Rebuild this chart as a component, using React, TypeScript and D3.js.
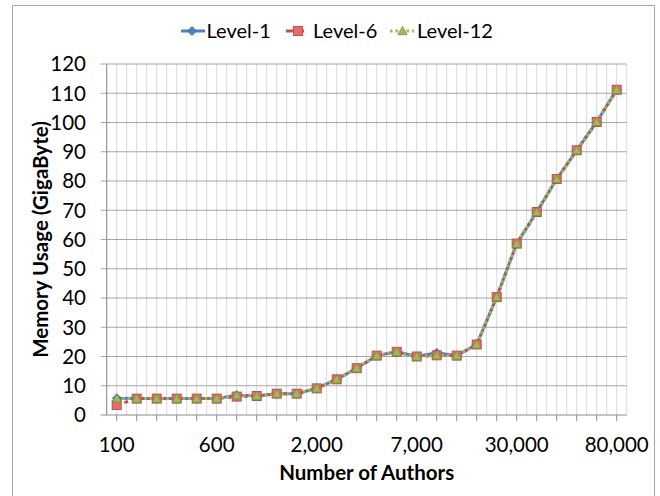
import React from "react";
import * as d3 from "d3";

const categories = [100, 200, 300, 400, 500, 600, 700, 800, 900, 1000, 2000, 3000, 4000, 5000, 6000, 7000, 8000, 9000, 10000, 20000, 30000, 40000, 50000, 60000, 70000, 80000];
const level1 = [5.7, 5.6, 5.6, 5.6, 5.6, 5.6, 6.8, 6.5, 7.3, 7.3, 9.1, 12.2, 16.0, 20.3, 21.6, 20.0, 21.3, 20.3, 24.1, 40.3, 58.6, 69.4, 80.7, 90.5, 100.2, 111.2];
const level6 = [3.4, 5.6, 5.6, 5.6, 5.6, 5.6, 6.3, 6.5, 7.3, 7.3, 9.1, 12.2, 16.0, 20.3, 21.6, 20.0, 20.4, 20.3, 24.1, 40.3, 58.6, 69.4, 80.7, 90.5, 100.2, 111.2];
const level12 = [5.7, 5.6, 5.6, 5.6, 5.6, 5.6, 6.8, 6.5, 7.3, 7.3, 9.1, 12.2, 16.0, 20.3, 21.6, 20.0, 20.4, 20.3, 24.1, 40.3, 58.6, 69.4, 80.7, 90.5, 100.2, 111.2];
const seriesNames = ["Level-1", "Level-6", "Level-12"];
const yTicks = [0, 10, 20, 30, 40, 50, 60, 70, 80, 90, 100, 110, 120];

const FONT = "Lato, 'Open Sans', sans-serif";

const L = 106.7, R = 626.7, T = 64, B = 415;

function Marker({ kind, x, y }: { kind: string; x: number; y: number }) {
  if (kind === "diamond") {
    const s = 4.5;
    return <path d={`M${x},${y - s}L${x + s},${y}L${x},${y + s}L${x - s},${y}Z`} fill="#4f81bd" stroke="#3a6ba5" strokeWidth={0.8} />;
  }
  if (kind === "square") {
    const s = 4.5;
    return <rect x={x - s} y={y - s} width={2 * s} height={2 * s} fill="#e26f6b" stroke="#c0504d" strokeWidth={1} />;
  }
  const s = 4.6;
  return <path d={`M${x},${y - s}L${x + s},${y + s * 0.8}L${x - s},${y + s * 0.8}Z`} fill="#9bbb59" stroke="#76923c" strokeWidth={0.8} />;
}

export default function App() {
  const x = d3.scaleBand<string>().domain(categories.map(String)).range([L, R]).padding(0);
  const bw = x.bandwidth();
  const cx = (i: number) => (x(String(categories[i])) as number) + bw / 2;
  const y = d3.scaleLinear().domain([0, 120]).range([B, T]);
  const fmt = d3.format(",");

  const vGrid: number[] = [];
  categories.forEach((c) => {
    const x0 = x(String(c)) as number;
    vGrid.push(x0, x0 + bw / 2);
  });
  vGrid.push(R);

  const line = d3.line<number>().x((_, i) => cx(i)).y((d) => y(d));

  const series = [
    { name: seriesNames[0], data: level1, color: "#4f81bd", dash: undefined as string | undefined, marker: "diamond" },
    { name: seriesNames[1], data: level6, color: "#c0504d", dash: "4 4", marker: "square" },
    { name: seriesNames[2], data: level12, color: "#9bbb59", dash: "2.5 3", marker: "triangle" },
  ];

  return (
    <svg width={660} height={496} style={{ position: "absolute", left: 0, top: 0, background: "#fff" }} fontFamily={FONT}>
      <rect x={0} y={0} width={660} height={496} fill="#fff" />
      <path d={`M12.5,500V5.5H654.5V500`} fill="none" stroke="#a6a6a6" strokeWidth={1} />

      {vGrid.map((gx, i) => (
        <line key={"v" + i} x1={gx} x2={gx} y1={T} y2={B} stroke="#d9d9d9" strokeWidth={1} />
      ))}
      {yTicks.map((t) => (
        <line key={"h" + t} x1={L - 6} x2={R} y1={y(t)} y2={y(t)} stroke={t === 0 ? "#8c8c8c" : "#a6a6a6"} strokeWidth={1} />
      ))}
      <line x1={L} x2={L} y1={T} y2={B} stroke="#8c8c8c" strokeWidth={1} />
      {categories.map((c, i) => (
        <line key={"xt" + c} x1={cx(i)} x2={cx(i)} y1={B} y2={B + 6} stroke="#8c8c8c" strokeWidth={1} />
      ))}

      {yTicks.map((t) => (
        <text key={"yl" + t} x={86} y={y(t)} dy="0.36em" textAnchor="end" fontSize={20.5} fill="#000">
          {t}
        </text>
      ))}
      {categories.map((c, i) =>
        i % 5 === 0 ? (
          <text key={"xl" + c} x={cx(i)} y={452} textAnchor="middle" fontSize={20.5} fill="#000">
            {fmt(c)}
          </text>
        ) : null
      )}

      <text x={(L + R) / 2} y={480} textAnchor="middle" fontSize={20.5} fontWeight="bold" fill="#000">
        Number of Authors
      </text>
      <text transform={`translate(48,${(T + B) / 2}) rotate(-90)`} textAnchor="middle" fontSize={20.5} fontWeight="bold" fill="#000">
        Memory Usage (GigaByte)
      </text>

      {series.map((s) => (
        <path key={"l" + s.name} d={line(s.data) || ""} fill="none" stroke={s.color} strokeWidth={3} strokeDasharray={s.dash} />
      ))}
      {series.map((s) => (
        <g key={"m" + s.name}>
          {s.data.map((v, i) => (
            <Marker key={i} kind={s.marker} x={cx(i)} y={y(v)} />
          ))}
        </g>
      ))}

      <g>
        <line x1={181} x2={205} y1={31} y2={31} stroke="#4f81bd" strokeWidth={3} />
        <Marker kind="diamond" x={192} y={31} />
        <text x={206.5} y={31} dy="0.36em" fontSize={20} fill="#000">{seriesNames[0]}</text>

        <line x1={286} x2={304} y1={31} y2={31} stroke="#c0504d" strokeWidth={3} />
        <Marker kind="square" x={298} y={31} />
        <text x={313} y={31} dy="0.36em" fontSize={20} fill="#000">{seriesNames[1]}</text>

        <line x1={390} x2={414} y1={31} y2={31} stroke="#9bbb59" strokeWidth={3} strokeDasharray="2.5 3" />
        <Marker kind="triangle" x={402.5} y={31} />
        <text x={417} y={31} dy="0.36em" fontSize={20} fill="#000">{seriesNames[2]}</text>
      </g>
    </svg>
  );
}
